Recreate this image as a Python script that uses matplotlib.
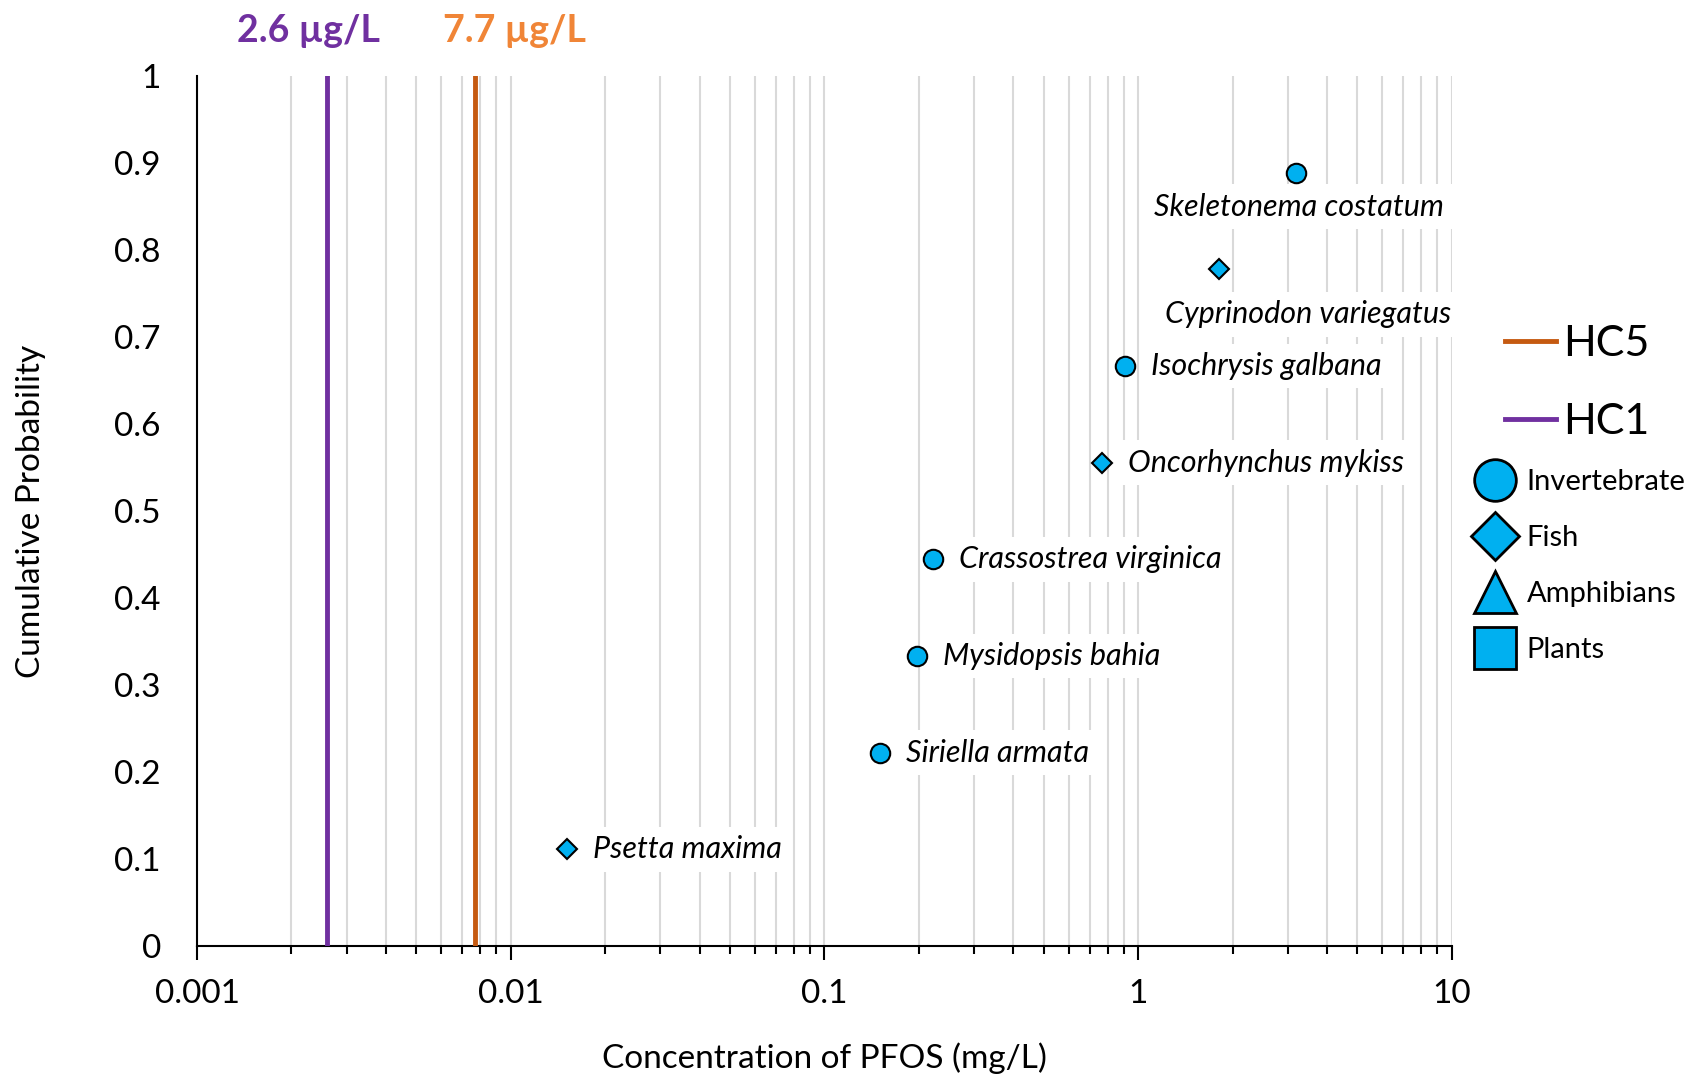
import numpy as np
import matplotlib.pyplot as plt
from matplotlib.lines import Line2D
from matplotlib.ticker import FixedLocator, LogLocator, NullFormatter

plt.rcParams['font.family'] = ['Lato', 'DejaVu Sans']

# species toxicity data (mg/L) and cumulative probability
species = ['Psetta maxima', 'Siriella armata', 'Mysidopsis bahia', 'Crassostrea virginica',
           'Oncorhynchus mykiss', 'Isochrysis galbana', 'Cyprinodon variegatus', 'Skeletonema costatum']
conc = [0.0151, 0.150, 0.197, 0.222, 0.765, 0.905, 1.81, 3.19]
prob = [1/9, 2/9, 3/9, 4/9, 5/9, 6/9, 7/9, 8/9]
group = ['Fish', 'Invertebrate', 'Invertebrate', 'Invertebrate',
         'Fish', 'Invertebrate', 'Fish', 'Invertebrate']

hc5 = 0.0077
hc1 = 0.0026

fill = '#00B0F0'
markers = {'Invertebrate': ('o', 14), 'Fish': ('D', 10), 'Amphibians': ('^', 14), 'Plants': ('s', 14)}

fig = plt.figure(figsize=(17.06, 10.8), dpi=100)
ax = fig.add_axes([0.1155, 0.124, 0.7355, 0.8056])

ax.set_xscale('log')
ax.set_xlim(0.001, 10)
ax.set_ylim(0, 1)

ax.xaxis.set_minor_locator(LogLocator(base=10, subs=np.arange(2, 10)))
ax.xaxis.set_minor_formatter(NullFormatter())
ax.xaxis.set_major_locator(FixedLocator([0.001, 0.01, 0.1, 1, 10]))
ax.set_xticklabels(['0.001', '0.01', '0.1', '1', '10'])
ax.set_yticks(np.arange(0, 1.01, 0.1))
ax.set_yticklabels(['0', '0.1', '0.2', '0.3', '0.4', '0.5', '0.6', '0.7', '0.8', '0.9', '1'])

ax.grid(True, which='both', axis='x', color='#D9D9D9', linewidth=1.5)
ax.set_axisbelow(True)
for s in ['top', 'right']:
    ax.spines[s].set_visible(False)
ax.spines['left'].set_linewidth(1.5)
ax.spines['bottom'].set_linewidth(1.5)
ax.tick_params(axis='x', which='major', length=10, width=1.5, labelsize=24, pad=14)
ax.tick_params(axis='x', which='minor', length=6, width=1.5)
ax.tick_params(axis='y', length=0, labelsize=24, pad=26)

ax.set_xlabel('Concentration of PFOS (mg/L)', fontsize=24, labelpad=24)
ax.set_ylabel('Cumulative Probability', fontsize=24, labelpad=49)

# hazard concentrations
ax.axvline(hc5, color='#C55A11', linewidth=3.5, zorder=3)
ax.axvline(hc1, color='#7030A0', linewidth=3.5, zorder=3)
ax.text(hc1 * 0.87, 1.052, '2.6 µg/L', color='#7030A0', fontsize=27, fontweight='bold',
        ha='center', va='center', transform=ax.get_xaxis_transform())
ax.text(hc5 * 1.34, 1.052, '7.7 µg/L', color='#F08537', fontsize=27, fontweight='bold',
        ha='center', va='center', transform=ax.get_xaxis_transform())

for x, y, g in zip(conc, prob, group):
    m, ms = markers[g]
    ax.plot(x, y, marker=m, markersize=ms, markerfacecolor=fill, markeredgecolor='black',
            markeredgewidth=1.5, linestyle='none', zorder=5, clip_on=False)

# species labels, most to the right of the point
offsets = {'Skeletonema costatum': (3, -34, 'center'),
           'Cyprinodon variegatus': (89, -45, 'center')}
for name, x, y in zip(species, conc, prob):
    dx, dy, ha = offsets.get(name, (26, 0, 'left'))
    ax.annotate(name, (x, y), xytext=(dx, dy), textcoords='offset pixels',
                ha=ha, va='center', fontsize=22, fontstyle='italic', zorder=4,
                bbox=dict(facecolor='white', edgecolor='none', pad=6))

# legend: hazard lines, then taxonomic groups
line_handles = [Line2D([], [], color='#C55A11', linewidth=3.5),
                Line2D([], [], color='#7030A0', linewidth=3.5)]
leg1 = fig.legend(line_handles, ['HC5', 'HC1'], loc='upper left',
                  bbox_to_anchor=(0.882, 0.699), frameon=False, fontsize=31,
                  handlelength=1.2, handletextpad=0.15, labelspacing=0.92,
                  borderpad=0, borderaxespad=0)

group_handles = []
for g in ['Invertebrate', 'Fish', 'Amphibians', 'Plants']:
    m, ms = markers[g]
    group_handles.append(Line2D([], [], marker=m, markersize=30 if m != 'D' else 24,
                                markerfacecolor=fill, markeredgecolor='black',
                                markeredgewidth=2, linestyle='none'))
leg2 = fig.legend(group_handles, ['Invertebrate', 'Fish', 'Amphibians', 'Plants'],
                  loc='upper left', bbox_to_anchor=(0.8625, 0.566), frameon=False,
                  fontsize=21, handlelength=1.6, handletextpad=0.3, labelspacing=1.03,
                  borderpad=0, borderaxespad=0)

fig.savefig('out.png', dpi=100)
